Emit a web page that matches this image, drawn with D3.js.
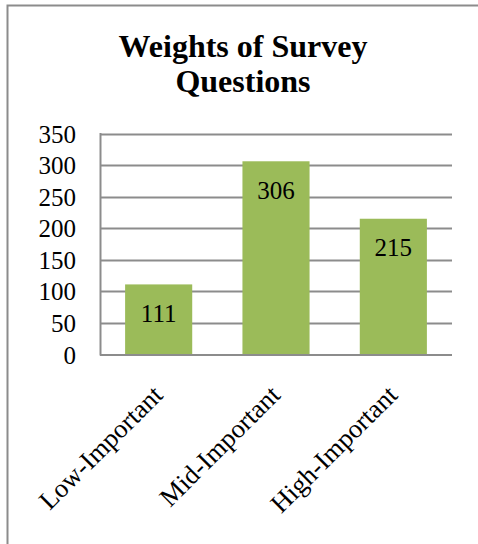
<!DOCTYPE html>
<html>
<head>
<meta charset="utf-8">
<script src="https://cdn.jsdelivr.net/npm/d3@7"></script>
<style>
  html, body { margin: 0; padding: 0; background: #fff; }
  svg { display: block; }
  text { font-family: "Liberation Serif", "Times New Roman", serif; fill: #000; }
</style>
</head>
<body>
<script>
// Survey question weights by importance level
const categories = ["Low-Important", "Mid-Important", "High-Important"];
const weights = [111, 306, 215];
const yTicks = [0, 50, 100, 150, 200, 250, 300, 350];
const titleLines = ["Weights of Survey", "Questions"];

const W = 478, H = 544;
const plot = { left: 100, right: 452, top: 133.5, bottom: 354.5 };

const svg = d3.select("body").append("svg")
  .attr("width", W).attr("height", H);

// outer chart frame (left and top edges)
svg.append("path")
  .attr("d", `M7.5,${H} V5.5 H${W}`)
  .attr("fill", "none").attr("stroke", "#8c8c8c").attr("stroke-width", 2);

// title
svg.append("text")
  .attr("x", 243).attr("text-anchor", "middle")
  .style("font-weight", "bold").style("font-size", "32px")
  .selectAll("tspan").data(titleLines).join("tspan")
  .attr("x", 243)
  .attr("y", (d, i) => 56.5 + i * 35)
  .text(d => d);

const x = d3.scaleBand().domain(categories).range([plot.left, plot.right]).padding(0);
const y = d3.scaleLinear().domain([0, 350]).range([plot.bottom, plot.top]);
const barW = x.bandwidth() * 0.572;

// horizontal gridlines + y tick labels
const yAxis = d3.axisLeft(y).tickValues(yTicks).tickSize(0).tickPadding(24)
  .tickFormat(d3.format("d"));
const gy = svg.append("g").attr("transform", `translate(${plot.left},0)`).call(yAxis);
gy.select(".domain").remove();
gy.selectAll(".tick text")
  .style("font-size", "25px").style("font-family", "'Liberation Serif', serif")
  .attr("fill", "#000").attr("dy", "0.34em");

svg.append("g").selectAll("line").data(yTicks.filter(d => d > 0)).join("line")
  .attr("x1", plot.left).attr("x2", plot.right)
  .attr("y1", d => Math.round(y(d)) + 0.5).attr("y2", d => Math.round(y(d)) + 0.5)
  .attr("stroke", "#8c8c8c").attr("stroke-width", 2);

// bars
svg.append("g").selectAll("rect").data(weights).join("rect")
  .attr("x", (d, i) => x(categories[i]) + (x.bandwidth() - barW) / 2)
  .attr("width", barW)
  .attr("y", d => y(d))
  .attr("height", d => y(0) - y(d))
  .attr("fill", "#9bbb59");

// value labels inside bars
svg.append("g").selectAll("text").data(weights).join("text")
  .attr("x", (d, i) => x(categories[i]) + x.bandwidth() / 2)
  .attr("y", d => y(d) + 37.5)
  .attr("text-anchor", "middle")
  .style("font-size", "25px")
  .text(d => d);

// axis lines
svg.append("line")
  .attr("x1", plot.left + 0.5).attr("x2", plot.left + 0.5)
  .attr("y1", plot.top - 0.5).attr("y2", plot.bottom + 1)
  .attr("stroke", "#8c8c8c").attr("stroke-width", 2);
svg.append("line")
  .attr("x1", plot.left).attr("x2", plot.right)
  .attr("y1", plot.bottom + 0.5).attr("y2", plot.bottom + 0.5)
  .attr("stroke", "#8c8c8c").attr("stroke-width", 2);

// rotated category labels
svg.append("g").selectAll("text").data(categories).join("text")
  .attr("transform", d => `translate(${x(d) + x.bandwidth() / 2 - 6},385) rotate(-45)`)
  .attr("text-anchor", "end")
  .attr("dy", "0.62em")
  .style("font-size", "26.5px")
  .text(d => d);
</script>
</body>
</html>
